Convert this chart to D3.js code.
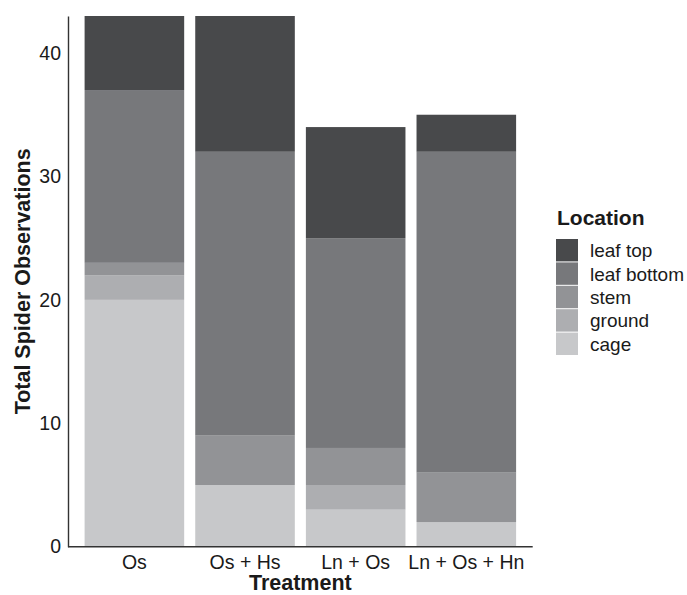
<!DOCTYPE html>
<html>
<head>
<meta charset="utf-8">
<script src="https://cdn.jsdelivr.net/npm/d3@7"></script>
<style>
  body { margin: 0; background: #fff; }
  text { font-family: "Liberation Sans", Arial, sans-serif; fill: #1a1a1a; }
</style>
</head>
<body>
<div id="chart_div"></div>
<script>
// data
var treatments = ['Os', 'Os + Hs', 'Ln + Os', 'Ln + Os + Hn'];
var locations = ['cage', 'ground', 'stem', 'leaf bottom', 'leaf top'];
var cage = [20, 5, 3, 2];
var ground = [2, 0, 2, 0];
var stem = [1, 4, 3, 4];
var leafBottom = [14, 23, 17, 26];
var leafTop = [6, 11, 9, 3];
var yTicks = [0, 10, 20, 30, 40];
var colors = ['#c7c8ca', '#adaeb1', '#929396', '#77787b', '#48494b'];

var w = 687, h = 595;
var margin = {top: 16, left: 68, right: 154.3, bottom: 48.3};

var svg = d3.select('#chart_div')
    .append('svg')
    .attr('width', w)
    .attr('height', h);

var rows = treatments.map(function(t, i){
    return {treatment: t, 'cage': cage[i], 'ground': ground[i], 'stem': stem[i],
            'leaf bottom': leafBottom[i], 'leaf top': leafTop[i]};
});
var series = d3.stack().keys(locations)(rows);

var x = d3.scaleBand()
    .domain(treatments)
    .range([margin.left, w - margin.right])
    .paddingInner(0.1)
    .paddingOuter(0.15);

var y = d3.scaleLinear()
    .domain([0, 43])
    .range([h - margin.bottom, margin.top]);

var color = d3.scaleOrdinal().domain(locations).range(colors);

svg.append('g')
  .selectAll('g')
  .data(series)
  .enter().append('g')
    .attr('fill', function(d){ return color(d.key); })
  .selectAll('rect')
  .data(function(d){ return d; })
  .enter().append('rect')
    .attr('x', function(d){ return x(d.data.treatment); })
    .attr('width', x.bandwidth())
    .attr('y', function(d){ return y(d[1]); })
    .attr('height', function(d){ return y(d[0]) - y(d[1]); });

// axes
var yAxis = svg.append('g')
    .attr('transform', 'translate(' + margin.left + ',0)')
    .call(d3.axisLeft(y).tickValues(yTicks).tickSize(0).tickPadding(7));
yAxis.select('.domain').attr('stroke', '#333').attr('stroke-width', 1.4);
yAxis.selectAll('text').style('font-size', '19.5px').attr('fill', '#333');

var xAxis = svg.append('g')
    .attr('transform', 'translate(0,' + (h - margin.bottom) + ')')
    .call(d3.axisBottom(x).tickSize(0).tickPadding(8));
xAxis.select('.domain').attr('stroke', '#333').attr('stroke-width', 1.4)
    .attr('d', 'M' + margin.left + ',0H' + (w - margin.right));
xAxis.selectAll('text').style('font-size', '19.5px').attr('fill', '#333');

// titles
svg.append('text')
    .attr('transform', 'translate(30,' + ((margin.top + h - margin.bottom) / 2) + ') rotate(-90)')
    .attr('text-anchor', 'middle')
    .style('font-size', '21.5px')
    .style('font-weight', 'bold')
    .text('Total Spider Observations');

svg.append('text')
    .attr('x', (margin.left + w - margin.right) / 2)
    .attr('y', 590)
    .attr('text-anchor', 'middle')
    .style('font-size', '21.5px')
    .style('font-weight', 'bold')
    .text('Treatment');

// legend
var legend = svg.append('g').attr('transform', 'translate(556,239)');
legend.append('text')
    .attr('x', 1)
    .attr('y', -14)
    .style('font-size', '21px')
    .style('font-weight', 'bold')
    .text('Location');

var legendKeys = locations.slice().reverse();
var key = legend.selectAll('g.key')
    .data(legendKeys)
    .enter().append('g')
    .attr('class', 'key')
    .attr('transform', function(d, i){ return 'translate(0,' + i * 23.4 + ')'; });
key.append('rect')
    .attr('width', 22)
    .attr('height', 22.4)
    .attr('fill', function(d){ return color(d); });
key.append('text')
    .attr('x', 34)
    .attr('y', 11.5)
    .attr('dy', '0.35em')
    .style('font-size', '19px')
    .attr('fill', '#333')
    .text(function(d){ return d; });
</script>
</body>
</html>
